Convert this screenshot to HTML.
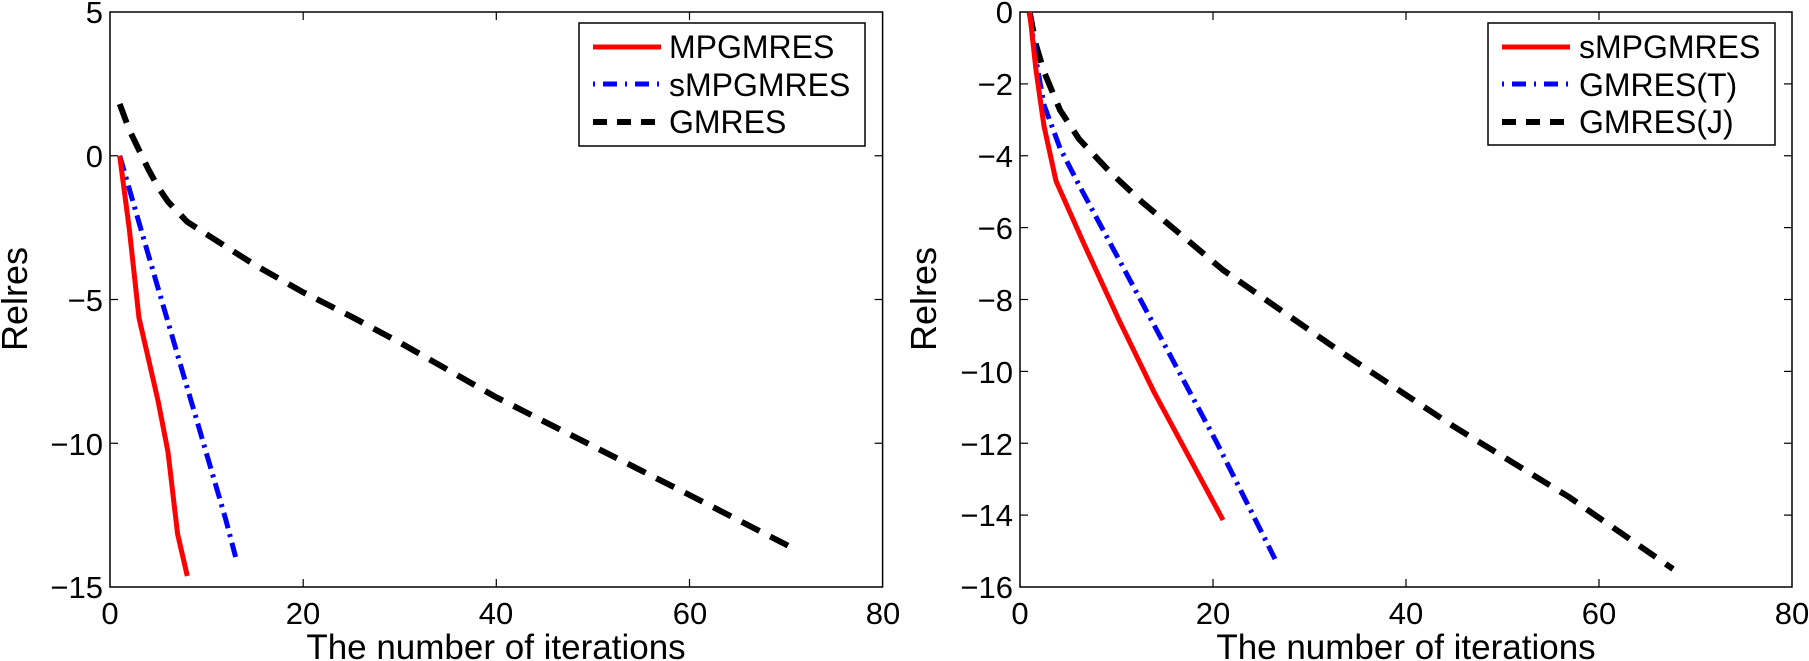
<!DOCTYPE html>
<html><head><meta charset="utf-8"><style>
html,body{margin:0;padding:0;background:#fff;}
svg{display:block;font-family:"Liberation Sans",Arial,sans-serif;}
</style></head><body>
<svg width="1809" height="661" viewBox="0 0 1809 661" xmlns="http://www.w3.org/2000/svg">
<rect width="1809" height="661" fill="#fff"/>
<g>
<rect x="110" y="12" width="772.6" height="575" fill="none" stroke="#000" stroke-width="1.5"/>
<g stroke="#000" stroke-width="1.2">
<line x1="303.2" y1="587" x2="303.2" y2="579"/><line x1="303.2" y1="12" x2="303.2" y2="20"/>
<line x1="496.3" y1="587" x2="496.3" y2="579"/><line x1="496.3" y1="12" x2="496.3" y2="20"/>
<line x1="689.5" y1="587" x2="689.5" y2="579"/><line x1="689.5" y1="12" x2="689.5" y2="20"/>
<line x1="110" y1="155.75" x2="118" y2="155.75"/><line x1="882.6" y1="155.75" x2="874.6" y2="155.75"/>
<line x1="110" y1="299.5" x2="118" y2="299.5"/><line x1="882.6" y1="299.5" x2="874.6" y2="299.5"/>
<line x1="110" y1="443.25" x2="118" y2="443.25"/><line x1="882.6" y1="443.25" x2="874.6" y2="443.25"/>
</g>
<g font-size="31" text-anchor="end" fill="#000">
<text x="103" y="23">5</text>
<text x="103" y="167">0</text>
<text x="103" y="311">−5</text>
<text x="103" y="455">−10</text>
<text x="103" y="598">−15</text>
</g>
<g font-size="31" text-anchor="middle" fill="#000">
<text x="110" y="624">0</text>
<text x="303" y="624">20</text>
<text x="496" y="624">40</text>
<text x="690" y="624">60</text>
<text x="883" y="624">80</text>
</g>
<text x="496" y="659" font-size="35" text-anchor="middle">The number of iterations</text>
<text transform="translate(27,299) rotate(-90)" font-size="36" text-anchor="middle">Relres</text>
<g fill="none" stroke-linejoin="round">
<polyline stroke="#000" stroke-width="6" stroke-dasharray="20 12" points="119.7,104 129.3,130 139,150 148.7,170 158.3,187.4 168,201.7 187.3,221.9 216.3,240.5 254.9,265 303.2,292.3 351.5,316.7 399.8,342.6 496.3,397.3 592.9,446.1 689.5,495 795.7,549.6"/>
<polyline stroke="#0000ff" stroke-width="5" stroke-dasharray="16 6 3 6" points="119.7,155.75 129.3,189 139,222.5 148.7,256 158.3,289 168,322 177.6,355 187.3,388 197,421 206.6,454 216.3,487 225.9,520 235.6,557"/>
<polyline stroke="#ff0000" stroke-width="5" points="119.7,155.75 129.3,229 139,318 148.7,360 158.3,402 168,452 177.6,534 187.3,576"/>
</g>
<rect x="579" y="23" width="286" height="123" fill="#fff" stroke="#000" stroke-width="1.5"/>
<line x1="593" y1="47" x2="661" y2="47" stroke="#ff0000" stroke-width="5"/>
<line x1="593" y1="84" x2="661" y2="84" stroke="#0000ff" stroke-width="5" stroke-dasharray="2 8 14 8"/>
<line x1="593" y1="122" x2="661" y2="122" stroke="#000" stroke-width="6" stroke-dasharray="14 10"/>
<g font-size="32" fill="#000">
<text x="669" y="58">MPGMRES</text>
<text x="669" y="96">sMPGMRES</text>
<text x="669" y="133">GMRES</text>
</g>
</g>

<g>
<rect x="1020" y="12" width="772" height="575" fill="none" stroke="#000" stroke-width="1.5"/>
<g stroke="#000" stroke-width="1.2">
<line x1="1213" y1="587" x2="1213" y2="579"/><line x1="1213" y1="12" x2="1213" y2="20"/>
<line x1="1406" y1="587" x2="1406" y2="579"/><line x1="1406" y1="12" x2="1406" y2="20"/>
<line x1="1599" y1="587" x2="1599" y2="579"/><line x1="1599" y1="12" x2="1599" y2="20"/>
<line x1="1020" y1="83.9" x2="1028" y2="83.9"/><line x1="1792" y1="83.9" x2="1784" y2="83.9"/>
<line x1="1020" y1="155.75" x2="1028" y2="155.75"/><line x1="1792" y1="155.75" x2="1784" y2="155.75"/>
<line x1="1020" y1="227.6" x2="1028" y2="227.6"/><line x1="1792" y1="227.6" x2="1784" y2="227.6"/>
<line x1="1020" y1="299.5" x2="1028" y2="299.5"/><line x1="1792" y1="299.5" x2="1784" y2="299.5"/>
<line x1="1020" y1="371.4" x2="1028" y2="371.4"/><line x1="1792" y1="371.4" x2="1784" y2="371.4"/>
<line x1="1020" y1="443.25" x2="1028" y2="443.25"/><line x1="1792" y1="443.25" x2="1784" y2="443.25"/>
<line x1="1020" y1="515.1" x2="1028" y2="515.1"/><line x1="1792" y1="515.1" x2="1784" y2="515.1"/>
</g>
<g font-size="31" text-anchor="end" fill="#000">
<text x="1013" y="23">0</text>
<text x="1013" y="95">−2</text>
<text x="1013" y="167">−4</text>
<text x="1013" y="239">−6</text>
<text x="1013" y="311">−8</text>
<text x="1013" y="383">−10</text>
<text x="1013" y="455">−12</text>
<text x="1013" y="526">−14</text>
<text x="1013" y="598">−16</text>
</g>
<g font-size="31" text-anchor="middle" fill="#000">
<text x="1020" y="624">0</text>
<text x="1213" y="624">20</text>
<text x="1406" y="624">40</text>
<text x="1599" y="624">60</text>
<text x="1792" y="624">80</text>
</g>
<text x="1406" y="659" font-size="35" text-anchor="middle">The number of iterations</text>
<text transform="translate(936,299) rotate(-90)" font-size="36" text-anchor="middle">Relres</text>
<g fill="none" stroke-linejoin="round">
<polyline stroke="#000" stroke-width="6" stroke-dasharray="20 12" points="1029.6,12 1036,45 1044,71.7 1060,110 1079,139 1110,172 1142,202 1223,270 1338,350 1453,426 1569,497 1673,569"/>
<polyline stroke="#0000ff" stroke-width="5" stroke-dasharray="16 6 3 6" points="1029.6,12 1036,60 1044,105 1060,148 1079,185 1154,325 1217,443 1275,559"/>
<polyline stroke="#ff0000" stroke-width="5" points="1029.6,12 1036,70 1044,126 1056,181 1084,244 1119,320 1154,392 1188,455 1223,520"/>
</g>
<rect x="1488" y="23" width="287" height="122" fill="#fff" stroke="#000" stroke-width="1.5"/>
<line x1="1502" y1="47" x2="1570" y2="47" stroke="#ff0000" stroke-width="5"/>
<line x1="1502" y1="84" x2="1570" y2="84" stroke="#0000ff" stroke-width="5" stroke-dasharray="2 8 14 8"/>
<line x1="1502" y1="122" x2="1570" y2="122" stroke="#000" stroke-width="6" stroke-dasharray="14 10"/>
<g font-size="32" fill="#000">
<text x="1579" y="58">sMPGMRES</text>
<text x="1579" y="96">GMRES(T)</text>
<text x="1579" y="133">GMRES(J)</text>
</g>
</g>
</svg>
</body></html>
